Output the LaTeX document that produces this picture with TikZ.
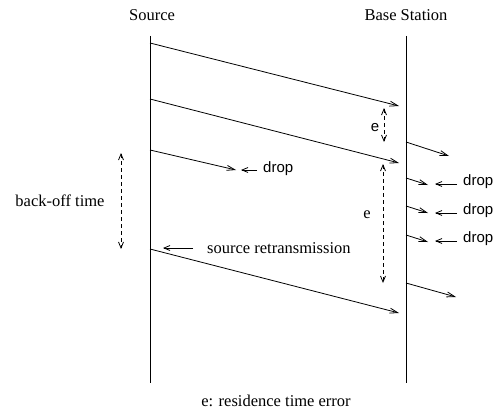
\documentclass[tikz,border=0pt]{standalone}
\usepackage{fontspec}
\setmainfont{Liberation Serif}
\newfontfamily\sansf{Liberation Sans}
\usetikzlibrary{arrows.meta}
\begin{document}
\begin{tikzpicture}[x=1pt,y=-1pt,
  lbl/.style={font=\fontsize{16.5}{19}\selectfont, inner sep=0pt},
  slbl/.style={font=\sansf\fontsize{15}{18}\selectfont, inner sep=0pt},
  msg/.style={line width=0.8pt, -{Straight Barb[length=8pt,width=5pt,line width=0.8pt]}},
  ptr/.style={line width=0.8pt, -{Straight Barb[length=6pt,width=5pt,line width=0.8pt]}},
  span/.style={line width=0.8pt, dash pattern=on 4pt off 3pt, {Straight Barb[length=6pt,width=5pt,line width=0.8pt]}-{Straight Barb[length=6pt,width=5pt,line width=0.8pt]}},
  life/.style={line width=0.9pt}]
\useasboundingbox (0,0) rectangle (494,409);
% lifelines
\coordinate (st) at (150,36); \coordinate (sb) at (150,383);
\coordinate (bt) at (406,36); \coordinate (bb) at (406,383);
\draw[life] (st) -- (sb);
\draw[life] (bt) -- (bb);
\node[lbl] (src) at (152,15) {Source};
\node[lbl] (bs) at (406,15) {Base Station};
% messages from source
\coordinate (m1s) at (150,43);  \coordinate (m1e) at (399,106);
\coordinate (m2s) at (150,99);  \coordinate (m2e) at (399,163);
\coordinate (m3s) at (150,150); \coordinate (m3e) at (236,170);
\coordinate (m4s) at (150,249); \coordinate (m4e) at (399,313);
\draw[msg] (m1s) -- (m1e);
\draw[msg] (m2s) -- (m2e);
\draw[msg] (m3s) -- (m3e);
\draw[msg] (m4s) -- (m4e);
% drop at source side
\node[slbl, anchor=west] (d0) at (263,169) {drop};
\coordinate (d0a) at (257,170); \coordinate (d0b) at (241,170);
\draw[ptr] (d0a) -- (d0b);
% retransmission
\node[lbl, anchor=west] (rt) at (207,248) {source retransmission};
\coordinate (rta) at (193,248); \coordinate (rtb) at (163,248);
\draw[ptr] (rta) -- (rtb);
% back-off time
\coordinate (bo1) at (121,153); \coordinate (bo2) at (121,249);
\draw[span] (bo1) -- (bo2);
\node[lbl] (bol) at (60,201) {back-off time};
% e spans
\coordinate (e1a) at (384,108); \coordinate (e1b) at (384,142);
\draw[span] (e1a) -- (e1b);
\node[slbl] (e1) at (375,128) {e};
\coordinate (e2a) at (383,164); \coordinate (e2b) at (383,283);
\draw[span] (e2a) -- (e2b);
\node[lbl] (e2) at (367,215) {e};
% forwarded from base station
\coordinate (f1s) at (406,142); \coordinate (f1e) at (449,156);
\coordinate (f2s) at (406,178); \coordinate (f2e) at (428,185);
\coordinate (f3s) at (406,206); \coordinate (f3e) at (428,213);
\coordinate (f4s) at (406,235); \coordinate (f4e) at (428,242);
\coordinate (f5s) at (406,283); \coordinate (f5e) at (456,297);
\draw[msg] (f1s) -- (f1e);
\draw[msg] (f2s) -- (f2e);
\draw[msg] (f3s) -- (f3e);
\draw[msg] (f4s) -- (f4e);
\draw[msg] (f5s) -- (f5e);
% drops at base station
\foreach \y/\n in {184/a,213/b,241/c}{
  \coordinate (dp\n1) at (457,\y); \coordinate (dp\n2) at (435,\y);
  \draw[ptr] (dp\n1) -- (dp\n2);
  \node[slbl, anchor=west] (dl\n) at (463,\y-2) {drop};
}
% footnote
\node[lbl] (fn) at (276,401) {e: residence time error};
\end{tikzpicture}
\end{document}
